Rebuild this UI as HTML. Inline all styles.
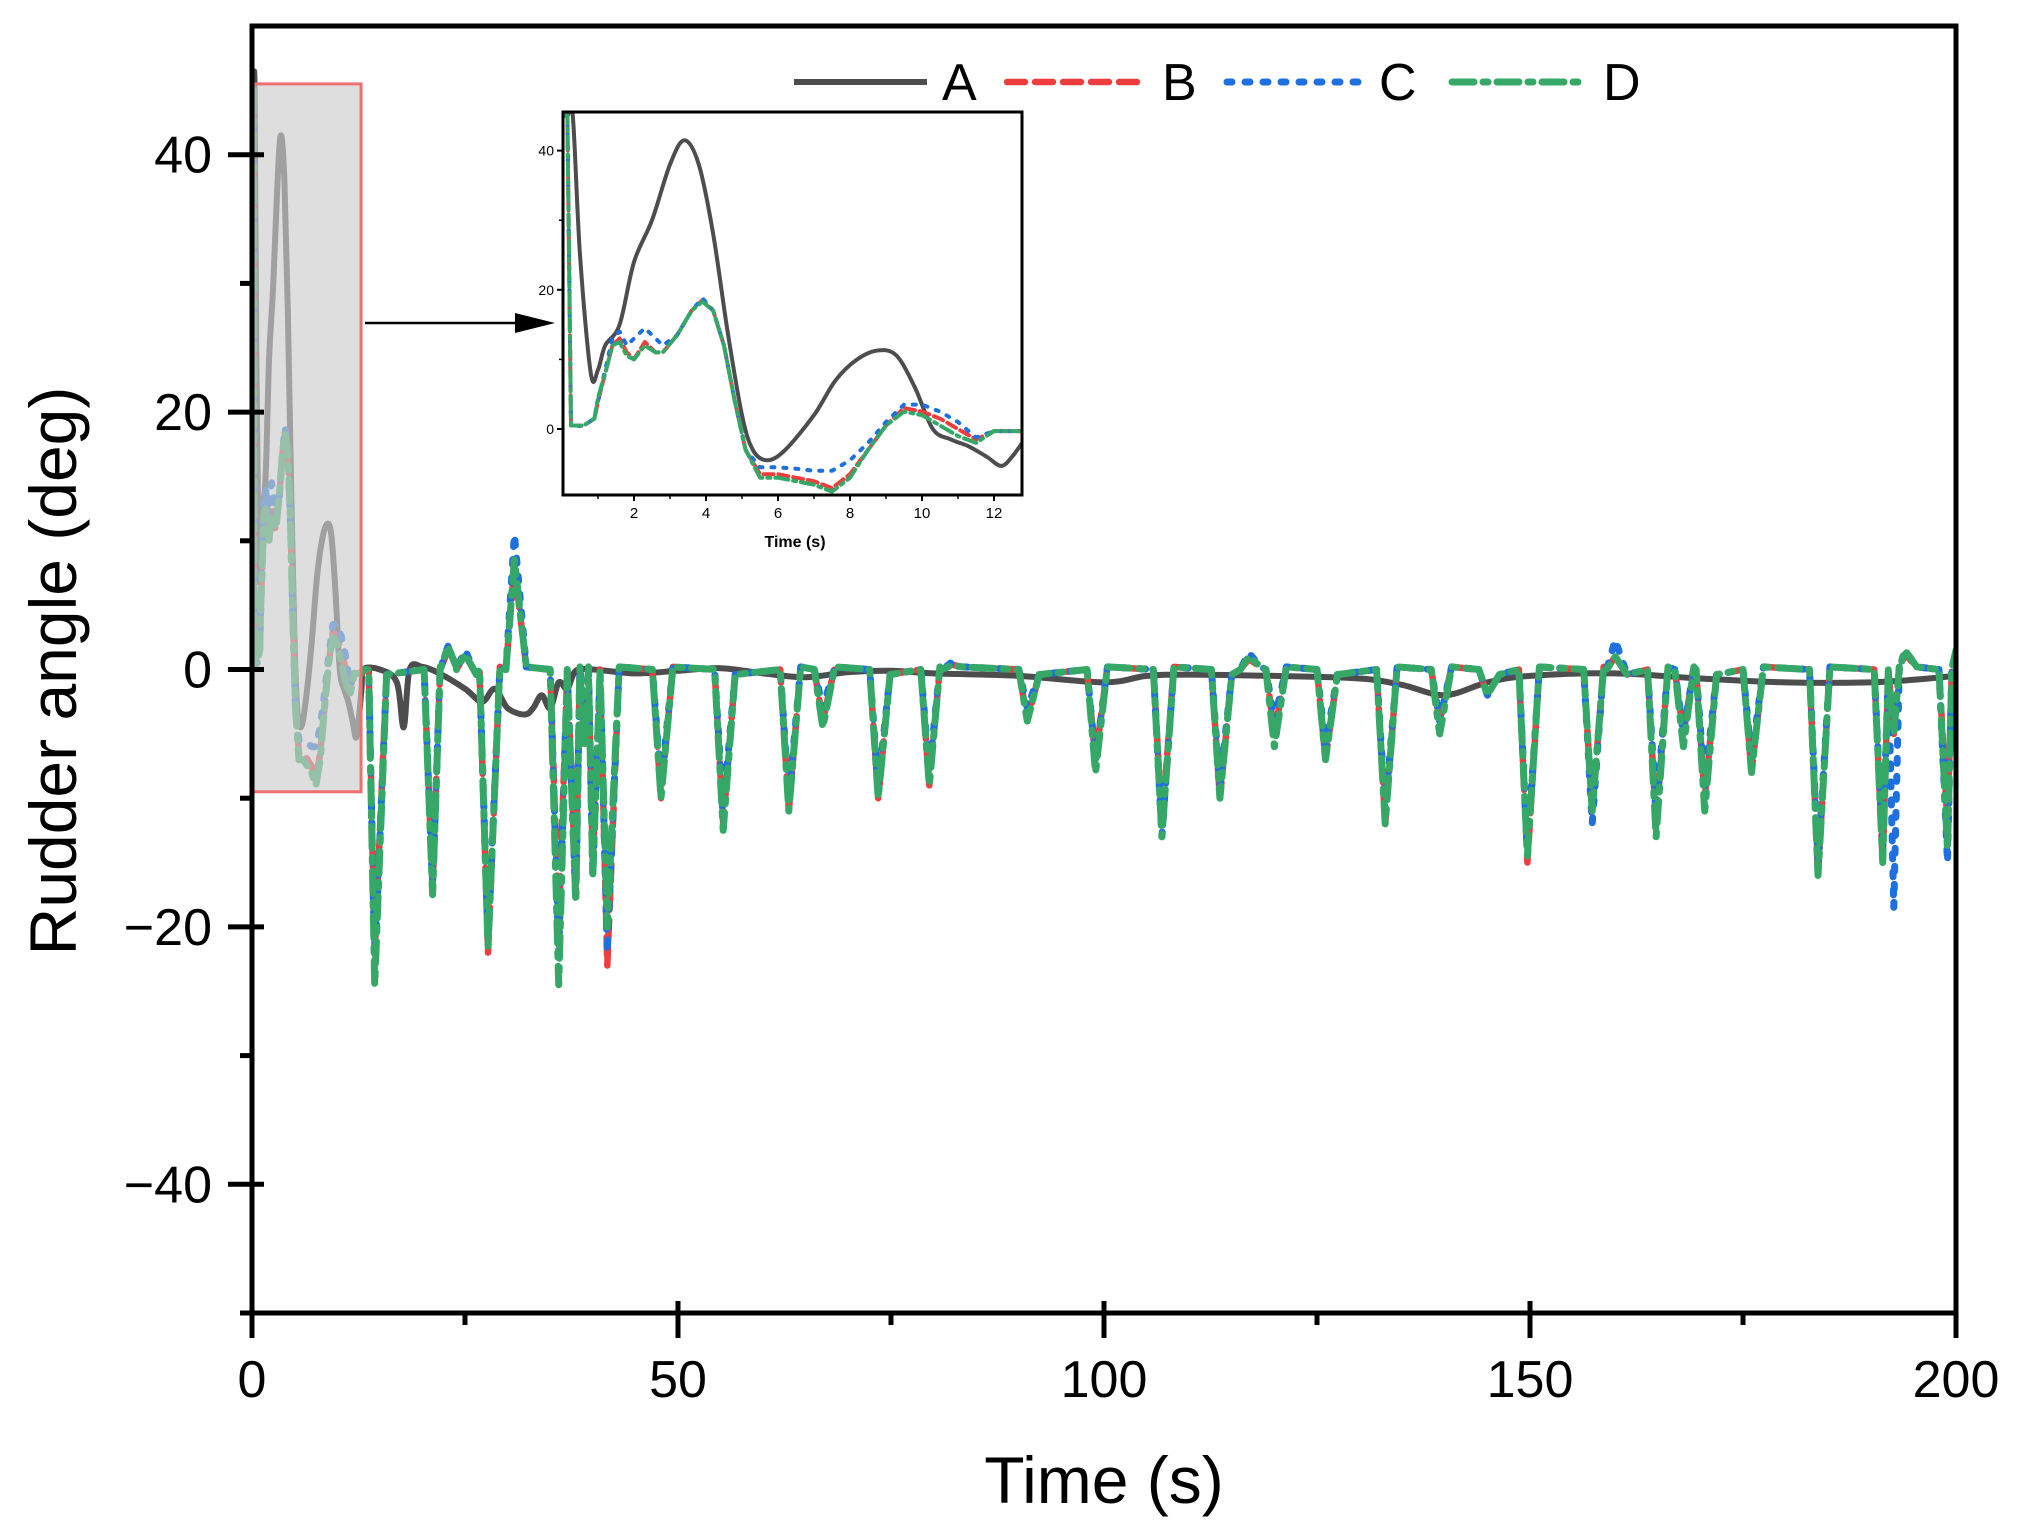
<!DOCTYPE html>
<html><head><meta charset="utf-8">
<style>
html,body{margin:0;padding:0;background:#fff;}
svg{display:block;font-family:"Liberation Sans",Arial,sans-serif;}
</style></head>
<body>
<svg id="chart" width="2018" height="1536" viewBox="0 0 2018 1536" xmlns="http://www.w3.org/2000/svg">
<defs>
<clipPath id="mainClip"><rect x="252" y="26" width="1704" height="1287"/></clipPath>
<clipPath id="insetClip"><rect x="563" y="112" width="459" height="383"/></clipPath>
</defs>
<rect x="0" y="0" width="2018" height="1536" fill="#fff"/>
<g id="mainSeries" clip-path="url(#mainClip)"></g>
<g id="mainAxes"></g>
<g id="inset"></g>
<g id="legend"></g>
<text x="1104" y="1503" font-size="66" text-anchor="middle">Time (s)</text>
<text transform="translate(76,671) rotate(-90)" font-size="66" text-anchor="middle">Rudder angle (deg)</text>
</svg>
<script>
// ---- data ----
const earlyT = [0,0.15,0.3,0.5,0.8,1.0,1.2,1.6,2.0,2.5,3.0,3.4,3.8,4.2,4.6,5.0,5.3,5.7,6.2,7.0,7.6,8.2,8.8,9.3,9.8,10.3,10.8,11.3,11.8,12.2,12.5,12.85];
const earlyA = [45,45,45,25,8,8.5,12,15,24,30,38,41.5,38,28,14,2,-3,-4.5,-3,2,7,10,11.3,10.5,6,0,-1.5,-2.5,-4,-5.3,-4,-1.5];
const earlyBt = [0,0.15,0.25,0.6,0.9,1.0,1.2,1.4,1.6,1.8,2.0,2.3,2.6,2.8,3.2,3.6,3.9,4.2,4.5,4.8,5.1,5.5,6.0,6.5,7.0,7.5,8.0,8.5,9.0,9.5,10.0,10.5,11.0,11.5,12.0,12.85];
const earlyB = [45,45,0.5,0.5,1.5,4,8,12,13,11,10,12.5,11,11,13.5,17,18.5,17,12,4,-3,-6.5,-6.5,-7,-7.5,-8.5,-6.5,-3,0.5,3,2.5,1.5,0,-1.5,-0.3,-0.3];
const earlyC = [45,45,0.3,0.5,1.5,4,8.5,13,14,12,13,14.5,13,12,13.5,17,18.8,17,12,4,-3,-5.5,-5.5,-5.7,-6,-6,-4.5,-2,1,3.5,3.5,2.5,1,-1.2,-0.3,-0.3];
const earlyD = [45,45,0.5,0.5,1.5,4.5,8,12,12.5,10.5,10,12,11,11,13.5,17,18.3,17,12,4,-3,-7,-7,-7.5,-8,-9,-7,-3,0.5,2.5,2,0.5,-1,-2,-0.3,-0.3];
const laterAt = [13,15,17,17.8,18.5,20,22,25,27,28.5,30,32,33,34,35,36,37,38,40,45,50,55,60,65,70,75,80,90,100,105,110,120,130,135,140,145,150,160,170,180,190,195,200];
const laterA = [0,0,-1,-4.5,0,0.2,-0.3,-1.5,-2.5,-1.5,-3,-3.5,-3,-2,-3,-1,-1.5,-0.1,0,-0.3,-0.1,0.1,-0.3,-0.6,-0.2,-0.1,-0.3,-0.5,-1,-0.5,-0.4,-0.5,-0.7,-1.2,-2,-1,-0.5,-0.3,-0.7,-1,-1,-0.8,-0.5];
const spikeT = [14.4,21.2,23,25,27.7,30.8,36,38,39,40,41.7,48,55.3,63,67,73.5,79.5,82,91,99,106.8,113.6,117,120,126,133,139.4,145,149.7,157.3,160,164.8,168,170.5,176,183.8,191.4,192.7,194,199,200];
const spikeB = [-22,-17,1.5,1.2,-22,8,-20,-17,-5,-15,-23,-10,-12,-11,-4,-10,-9,0.4,-4,-7,-12,-10,0.8,-5,-7,-12,-4,-2,-15,-11,1,-12,-5,-10,-8,-16,-15,-5,1.2,-12,1];
const spikeC = [-23,-17,1.8,1.5,-21,10.5,-22,-18,-4,-16,-22,-9,-11,-10,-3,-9,-8,0.5,-3,-7,-13,-9,1.3,-4,-6,-11,-4,-2,-14,-12,2.3,-11,-5,-9,-7,-15,-14,-18.5,1.5,-15,1.2];
const spikeD = [-24.5,-17.5,1.8,1.2,-21.5,8.5,-24.5,-18,-6,-16,-20,-10,-12.5,-11,-4.5,-10,-9,0.3,-4,-8,-13,-10,1,-6,-7,-12,-5,-2,-14.5,-11,1,-13,-6,-11,-8,-16,-15,-5,1.5,-14,1.5];
const xTicks = [0,50,100,150,200];
const yTicks = [-40,-20,0,20,40];
const insetXTicks = [2,4,6,8,10,12];
const insetYTicks = [0,20,40];

// ---- scales ----
const X = t => 252 + t*(1956-252)/200;
const Y = v => 669.5 - v*12.87;
const IX = t => 562 + t*36;
const IY = v => 429 - v*6.96;
const NS = "http://www.w3.org/2000/svg";
function mk(tag, parent, attrs){const e=document.createElementNS(NS,tag);for(const k in attrs)e.setAttribute(k,attrs[k]);parent.appendChild(e);return e;}
function pathD(ts, vs, fx, fy){return ts.map((t,i)=>(i?'L':'M')+fx(t).toFixed(1)+' '+fy(vs[i]).toFixed(1)).join(' ');}
function smoothD(ts, vs, fx, fy){
  const P=ts.map((t,i)=>[fx(t),fy(vs[i])]);
  let d='M'+P[0][0].toFixed(1)+' '+P[0][1].toFixed(1);
  for(let i=0;i<P.length-1;i++){
    const p0=P[Math.max(0,i-1)],p1=P[i],p2=P[i+1],p3=P[Math.min(P.length-1,i+2)];
    let c1x=p1[0]+(p2[0]-p0[0])/6,c1y=p1[1]+(p2[1]-p0[1])/6;
    let c2x=p2[0]-(p3[0]-p1[0])/6,c2y=p2[1]-(p3[1]-p1[1])/6;
    c1x=Math.min(Math.max(c1x,p1[0]),p2[0]);c2x=Math.min(Math.max(c2x,p1[0]),p2[0]);
    d+=' C'+c1x.toFixed(1)+' '+c1y.toFixed(1)+' '+c2x.toFixed(1)+' '+c2y.toFixed(1)+' '+p2[0].toFixed(1)+' '+p2[1].toFixed(1);
  }
  return d;
}
function buildLater(vals){
  const ts=[13],vs=[0];
  spikeT.forEach((t,i)=>{
    const prev=i?spikeT[i-1]:13, next=i<spikeT.length-1?spikeT[i+1]:201;
    const a=Math.max(t-1.0,(prev+t)/2), b=Math.min(t+1.4,(t+next)/2-0.01);
    if(a>ts[ts.length-1]){ts.push(a);vs.push(0);}
    ts.push(t);vs.push(vals[i]);
    ts.push(b);vs.push(i%3===0?-0.4:0.2);
  });
  return {ts,vs};
}
const styles = {
  A:{c:'#4d4d4d',d:'',w:6},
  B:{c:'#ee3d3d',d:'18 10',w:6.5},
  C:{c:'#1e6fe0',d:'5 13',w:7},
  D:{c:'#35a867',d:'22 9 5 9',w:7}
};
const main=document.getElementById('mainSeries');
let p=mk('path',main,{d:smoothD(earlyT.concat(laterAt),earlyA.concat(laterA),X,Y),fill:'none',stroke:styles.A.c,'stroke-width':styles.A.w,'stroke-linejoin':'round'});


[['B',earlyB,spikeB],['C',earlyC,spikeC],['D',earlyD,spikeD]].forEach(([k,ev,sv])=>{
  const l=buildLater(sv);
  const e=mk('path',main,{d:pathD(earlyBt.concat(l.ts),ev.concat(l.vs),X,Y),fill:'none',stroke:styles[k].c,'stroke-width':styles[k].w,'stroke-dasharray':styles[k].d,'stroke-linecap':'round','stroke-linejoin':'round'});
  
  
});
const hr=mk('rect',main,{x:X(0),y:Y(45.5),width:X(12.8)-X(0),height:Y(-9.5)-Y(45.5),fill:'rgba(205,205,205,0.65)',stroke:'#ec7070','stroke-width':3});



// main axes
const ax=document.getElementById('mainAxes');
mk('rect',ax,{x:252,y:26,width:1704,height:1287,fill:'none',stroke:'#000','stroke-width':5});
xTicks.forEach(t=>{
  mk('line',ax,{x1:X(t),x2:X(t),y1:1301,y2:1338,stroke:'#000','stroke-width':5});
  const tx=mk('text',ax,{x:X(t),y:1397,'font-size':52,'text-anchor':'middle'});tx.textContent=t;
  
  
  if(t<200){mk('line',ax,{x1:X(t+25),x2:X(t+25),y1:1313,y2:1325,stroke:'#000','stroke-width':5});}
});
yTicks.forEach(v=>{
  mk('line',ax,{x1:228,x2:264,y1:Y(v),y2:Y(v),stroke:'#000','stroke-width':5});
  const tx=mk('text',ax,{x:212,y:Y(v)+18,'font-size':52,'text-anchor':'end'});tx.textContent=v<0?'\u2212'+(-v):v;
  
  
});
[-50,-30,-10,10,30].forEach(v=>mk('line',ax,{x1:240,x2:252,y1:Y(v),y2:Y(v),stroke:'#000','stroke-width':5}));
const ar=mk('g',ax,{});


mk('line',ar,{x1:365,y1:323,x2:530,y2:323,stroke:'#000','stroke-width':2.5});
mk('polygon',ar,{points:'515,313 555,323 515,333',fill:'#000'});

// inset
const ins=document.getElementById('inset');
mk('rect',ins,{x:563,y:112,width:459,height:383,fill:'#fff'});
const ic=mk('g',ins,{'clip-path':'url(#insetClip)'});
p=mk('path',ic,{d:smoothD(earlyT,earlyA,IX,IY),fill:'none',stroke:styles.A.c,'stroke-width':4});


[['B',earlyB,'10 5'],['C',earlyC,'3 9'],['D',earlyD,'13 5 3 5']].forEach(([k,ev,da])=>{
  const e=mk('path',ic,{d:pathD(earlyBt,ev,IX,IY),fill:'none',stroke:styles[k].c,'stroke-width':4,'stroke-dasharray':da,'stroke-linecap':'round','stroke-linejoin':'round'});
  
  
});
mk('rect',ins,{x:563,y:112,width:459,height:383,fill:'none',stroke:'#000','stroke-width':3});
insetXTicks.forEach(t=>{
  mk('line',ins,{x1:IX(t),x2:IX(t),y1:495,y2:501,stroke:'#000','stroke-width':2});
  mk('line',ins,{x1:IX(t-1),x2:IX(t-1),y1:495,y2:499,stroke:'#000','stroke-width':1.5});
  const tx=mk('text',ins,{x:IX(t),y:518,'font-size':15,'text-anchor':'middle'});tx.textContent=t;
  
  
});
insetYTicks.forEach(v=>{
  mk('line',ins,{x1:557,x2:563,y1:IY(v),y2:IY(v),stroke:'#000','stroke-width':2});
  if(v<40){mk('line',ins,{x1:559,x2:563,y1:IY(v+10),y2:IY(v+10),stroke:'#000','stroke-width':1.5});}
  const tx=mk('text',ins,{x:554,y:IY(v)+5,'font-size':14,'text-anchor':'end'});tx.textContent=v;
  
  
});
const it=mk('text',ins,{x:795,y:547,'font-size':16,'text-anchor':'middle','font-weight':'bold'});it.textContent='Time (s)';



// legend
const lg=document.getElementById('legend');
[['A',794,927,942],['B',1007,1143,1162],['C',1227,1362,1379],['D',1452,1582,1603]].forEach(([k,x1,x2,tx])=>{
  const g=mk('g',lg,{});
  
  
  mk('line',g,{x1:x1,x2:x2,y1:82,y2:82,stroke:styles[k].c,'stroke-width':styles[k].w,'stroke-dasharray':styles[k].d,'stroke-linecap':k==='A'?'butt':'round'});
  const t=mk('text',g,{x:tx,y:100,'font-size':52});t.textContent=k;
});
</script>
</body></html>
